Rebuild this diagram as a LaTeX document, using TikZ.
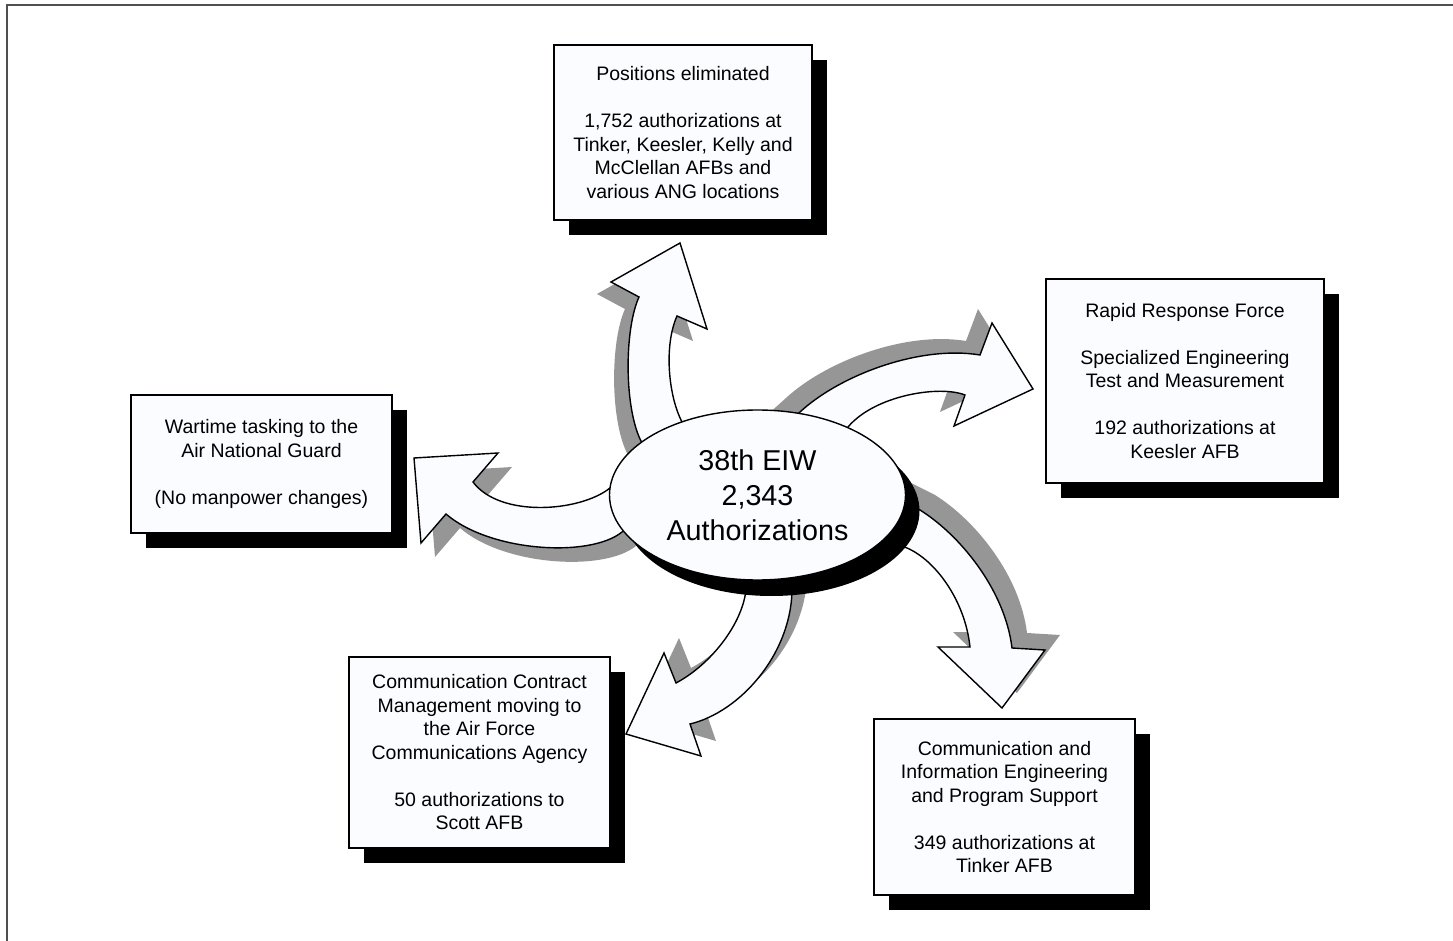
\documentclass[tikz,border=0pt]{standalone}
\usepackage{fontspec}
\setmainfont{Liberation Sans}
\usepackage{tikz}
\usetikzlibrary{shapes.geometric,shadows}
\definecolor{paper}{RGB}{250,252,255}
\definecolor{arrowgray}{RGB}{150,150,150}
\definecolor{framegray}{RGB}{80,80,80}

\tikzset{
  infobox/.style={draw=black, line width=0.7pt, fill=paper, align=center,
    inner sep=0pt, font=\fontsize{9.75}{11.75}\selectfont,
    drop shadow={shadow xshift=7.5pt, shadow yshift=-7.5pt, fill=black, opacity=1}},
  hub/.style={ellipse, draw=black, line width=0.7pt, fill=paper, align=center,
    inner sep=0pt, minimum width=148pt, minimum height=85pt,
    font=\fontsize{14.35}{17.5}\selectfont,
    drop shadow={shadow xshift=7pt, shadow yshift=-8pt, fill=black, opacity=1}},
  bigarrow/.style={draw=black, line width=0.7pt, fill=paper, line join=miter,
    preaction={fill=arrowgray, transform canvas={shift={#1}}}},
}

\begin{document}
\begin{tikzpicture}[x=0.5pt,y=-0.5pt]
  \useasboundingbox (0,0) rectangle (1453,941);
  \draw[framegray, line width=1pt] (1453,5.5) -- (6.5,5.5) -- (6.5,941);

  % the five boxes
  \node[infobox, minimum width=129pt, minimum height=87.5pt] (elim) at (683,132.5)
    {Positions eliminated\\[11.75pt]1,752 authorizations at\\Tinker, Keesler, Kelly and\\McClellan AFBs and\\various ANG locations};
  \node[infobox, minimum width=139pt, minimum height=102pt] (rapid) at (1185,381)
    {Rapid Response Force\\[11.75pt]Specialized Engineering\\Test and Measurement\\[11.75pt]192 authorizations at\\Keesler AFB};
  \node[infobox, minimum width=130.5pt, minimum height=69pt] (guard) at (261.5,464)
    {Wartime tasking to the\\Air National Guard\\[11.75pt](No manpower changes)};
  \node[infobox, minimum width=130.5pt, minimum height=95.5pt] (contract) at (479.5,752.5)
    {Communication Contract\\Management moving to\\the Air Force\\Communications Agency\\[11.75pt]50 authorizations to\\Scott AFB};
  \node[infobox, minimum width=130.5pt, minimum height=88pt] (engin) at (1004.5,807)
    {Communication and\\Information Engineering\\and Program Support\\[11.75pt]349 authorizations at\\Tinker AFB};

  % curved arrows out of the wing
  \coordinate (hubc) at (757,495);
  \path[bigarrow={(-7pt,-6pt)}] (hubc) -- (652,461) -- (642,443)
    .. controls (624,410) and (624,330) .. (639,297) -- (611,282) -- (680,243)
    -- (707,329) -- (677,316) .. controls (664,345) and (668,395) .. (682,422)
    -- (692,442) -- cycle;
  \path[bigarrow={(-7pt,7pt)}] (hubc) -- (780,430) -- (800,412)
    .. controls (840,375) and (920,345) .. (980,355) -- (992,323) -- (1033,389)
    -- (954,426) -- (965,395) .. controls (940,385) and (875,395) .. (848,427)
    -- (831,447) -- cycle;
  \path[bigarrow={(7pt,-7pt)}] (hubc) -- (630,472) -- (610,488)
    .. controls (580,512) and (500,518) .. (473,482) -- (498,453) -- (414,458)
    -- (421,543) -- (446,514) .. controls (490,552) and (590,558) .. (622,532)
    -- (642,516) -- cycle;
  \path[bigarrow={(7.5pt,7.5pt)}] (hubc) -- (748,570) -- (746,590)
    .. controls (742,625) and (710,665) .. (676,683) -- (664,653) -- (626,734)
    -- (701,756) -- (690,724) .. controls (740,712) and (790,655) .. (792,592)
    -- (793,570) -- cycle;
  \path[bigarrow={(7.5pt,7.5pt)}] (hubc) -- (870,485) -- (920,510)
    .. controls (960,535) and (1005,590) .. (1012,648) -- (1045,650) -- (1002,708)
    -- (938,647) -- (970,647) .. controls (965,600) and (935,560) .. (907,548)
    -- (885,539) -- cycle;

  % the wing itself
  \node[hub] (eiw) at (757.5,495) {38th EIW\\2,343\\Authorizations};
\end{tikzpicture}
\end{document}
